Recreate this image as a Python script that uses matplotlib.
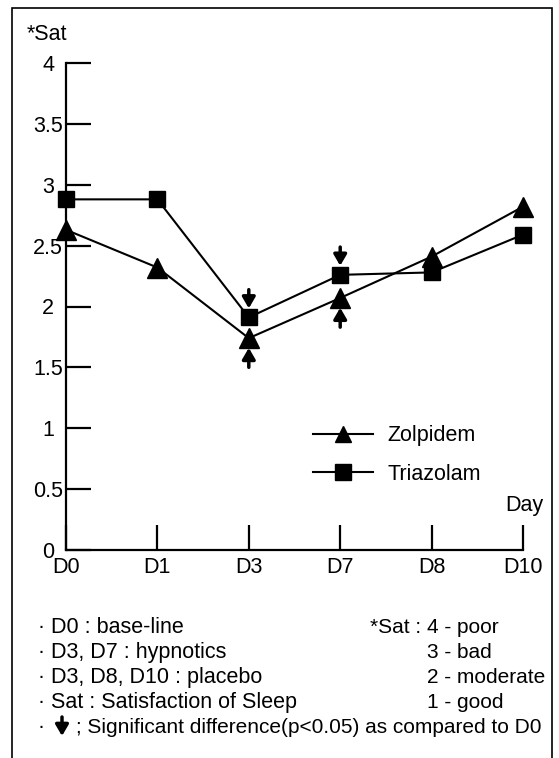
import matplotlib
matplotlib.use("Agg")
import matplotlib.pyplot as plt
from matplotlib.patches import Rectangle, FancyArrowPatch
from matplotlib.transforms import ScaledTranslation

plt.rcParams['font.family'] = ['Liberation Sans', 'DejaVu Sans']

# Data
days = ["D0", "D1", "D3", "D7", "D8", "D10"]
zolpidem = [2.63, 2.32, 1.74, 2.07, 2.41, 2.82]
triazolam = [2.88, 2.88, 1.91, 2.26, 2.28, 2.59]
sig_days = ["D3", "D7"]
yticks = [0, 0.5, 1, 1.5, 2, 2.5, 3, 3.5, 4]
ylabels = ["0", "0.5", "1", "1.5", "2", "2.5", "3", "3.5", "4"]

notes_left = ["D0 : base-line", "D3, D7 : hypnotics",
              "D3, D8, D10 : placebo", "Sat : Satisfaction of Sleep"]
sat_scale = ["4 - poor", "3 - bad", "2 - moderate", "1 - good"]
sig_note = "; Significant difference(p<0.05) as compared to D0"

W, H = 559, 758
fig = plt.figure(figsize=(W / 100, H / 100), dpi=100)


def fx(px):
    return px / W


def fy(py):
    return 1 - py / H


# Axes: x from 66 to 523 px, y from 550 (0) to 63 (4)
ax = fig.add_axes([fx(66), fy(550), fx(523) - fx(66), fy(63) - fy(550)])
x = list(range(len(days)))

ax.plot(x, zolpidem, color="black", lw=1.5, marker="^", ms=14,
        clip_on=False, zorder=3, label="Zolpidem")
ax.plot(x, triazolam, color="black", lw=1.5, marker="s", ms=11,
        clip_on=False, zorder=3, label="Triazolam")

ax.set_xlim(0, 5)
ax.set_ylim(0, 4)
ax.set_xticks(x)
ax.set_xticklabels(days)
ax.set_yticks(yticks)
ax.set_yticklabels(ylabels)

for s in ["top", "right"]:
    ax.spines[s].set_visible(False)
for s in ["left", "bottom"]:
    ax.spines[s].set_linewidth(1.6)

ax.tick_params(axis="y", direction="in", length=18, width=1.6,
               labelsize=15.5, pad=2)
ax.tick_params(axis="x", direction="in", length=18, width=1.6,
               labelsize=15.5, pad=5)

# integer labels sit further left than the decimal ones
for lab, v in zip(ax.get_yticklabels(), yticks):
    if float(v).is_integer():
        lab.set_transform(lab.get_transform() +
                          ScaledTranslation(-9 / 100, 0, fig.dpi_scale_trans))

# significance arrows
arrow_style = "-|>,head_length=0.55,head_width=0.32"
arrow_kw = dict(arrowstyle=arrow_style, lw=2.5, color="black",
                shrinkA=0, mutation_scale=12)
for d in sig_days:
    i = days.index(d)
    ax.annotate("", xy=(i, triazolam[i]), xytext=(0, 20),
                textcoords="offset points",
                arrowprops=dict(arrow_kw, shrinkB=6.5))
    ax.annotate("", xy=(i, zolpidem[i]), xytext=(0, -21),
                textcoords="offset points",
                arrowprops=dict(arrow_kw, shrinkB=7))

leg = ax.legend(loc="center left", bbox_to_anchor=(fx(313), fy(455)),
                bbox_transform=fig.transFigure, frameon=False,
                fontsize=15.5, borderpad=0, borderaxespad=0,
                handlelength=2.8, handletextpad=0.65, labelspacing=0.8)
for h in leg.legend_handles:
    h.set_markersize(11)

fig.text(fx(543), fy(511), "Day", fontsize=15.5, ha="right", va="baseline")
fig.text(fx(27), fy(40), "*Sat", fontsize=15.5, ha="left", va="baseline")

# footer notes
base = [633, 658, 683, 708, 733]
for b, t in zip(base, notes_left):
    fig.text(fx(38), fy(b), "\u00b7 " + t, fontsize=15.5, va="baseline")
fig.text(fx(421), fy(base[0]), "*Sat :", fontsize=15, ha="right",
         va="baseline")
for b, t in zip(base, sat_scale):
    fig.text(fx(427), fy(b), t, fontsize=15, va="baseline")
fig.text(fx(38), fy(base[4]), "\u00b7", fontsize=15.5, va="baseline")
fig.text(fx(76), fy(base[4]), sig_note, fontsize=15, va="baseline")
fig.patches.append(FancyArrowPatch(
    (fx(62), fy(717)), (fx(62), fy(736)), transform=fig.transFigure,
    arrowstyle=arrow_style, lw=2.5, color="black", mutation_scale=12,
    shrinkA=0, shrinkB=0))

# border
fig.patches.append(Rectangle((fx(12), fy(770)), fx(552) - fx(12),
                             fy(8) - fy(770), transform=fig.transFigure,
                             fill=False, lw=1.2, color="black"))

fig.savefig("out.png", dpi=100)
